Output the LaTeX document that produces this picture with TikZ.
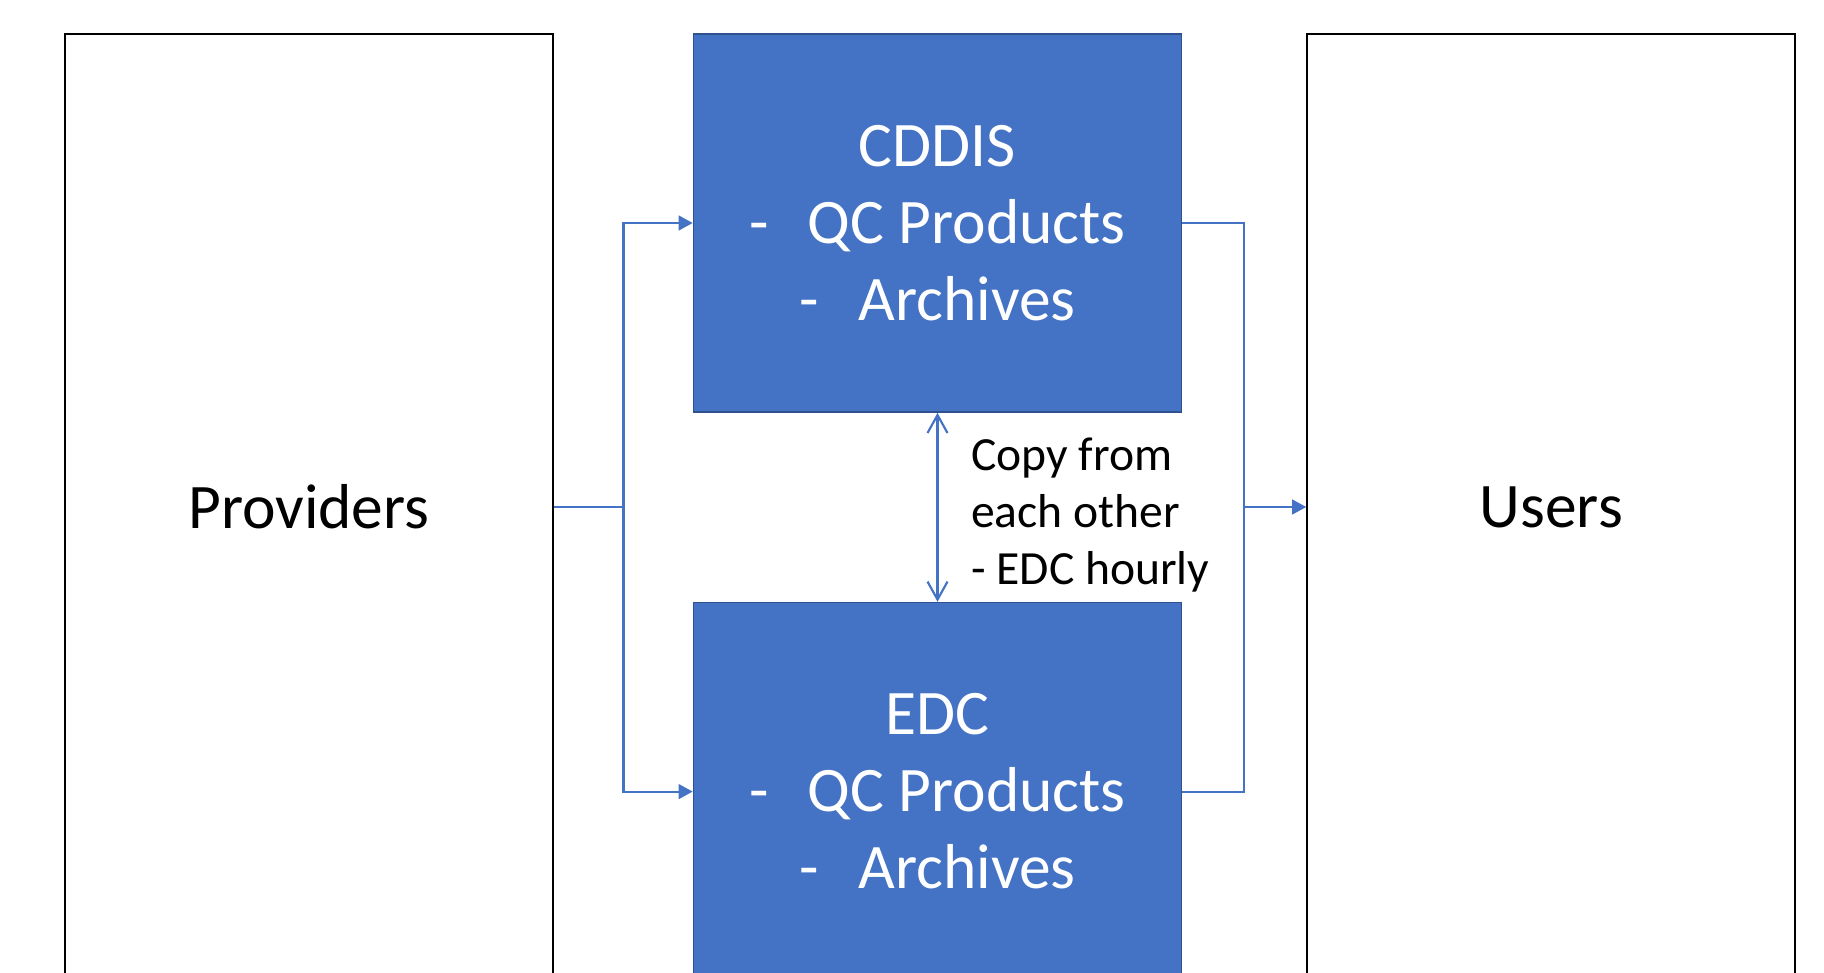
\documentclass[tikz,border=0pt]{standalone}
\usepackage{fontspec}
\setmainfont{Carlito}
\usetikzlibrary{arrows.meta}
\definecolor{accent}{HTML}{4472C4}
\definecolor{accentdark}{HTML}{2F528F}
\begin{document}
\begin{tikzpicture}[x=0.75pt,y=-0.75pt,
  sidebox/.style={draw=black,line width=1.6pt,fill=white,minimum width=366pt,minimum height=709.5pt,inner sep=0pt,font=\fontsize{47.6}{57.75}\selectfont},
  hubbox/.style={draw=accentdark,line width=1.2pt,fill=accent,text=white,minimum width=366pt,minimum height=283.5pt,inner sep=0pt,align=center,font=\fontsize{47.6}{57.75}\selectfont},
  conn/.style={draw=accent,line width=1.6pt},
  arr/.style={conn,-{Triangle[length=10.5pt,width=11pt]}},
  dbl/.style={conn,{Straight Barb[length=13.5pt,width=15pt]}-{Straight Barb[length=13.5pt,width=15pt]}},
  lbl/.style={font=\fontsize{35.7}{42.4}\selectfont,align=left,inner sep=0pt}]
\useasboundingbox (0,0) rectangle (1824,973);
\clip (0,0) rectangle (1824,973);
\fill[white] (0,0) rectangle (1824,973);
\node[sidebox] (prov) at (308.8,507) {Providers};
\node[sidebox] (users) at (1551.3,507) {Users};
\node[hubbox] (cddis) at (937.5,223) {CDDIS\\-\hspace{29.5pt}QC Products\\-\hspace{29.5pt}Archives};
\node[hubbox] (edc) at (937.5,791.6) {EDC\\-\hspace{29.5pt}QC Products\\-\hspace{29.5pt}Archives};
\coordinate (jl) at (623.5,507);
\coordinate (jr) at (1244,507);
\draw[conn] (prov.east) -- (jl);
\draw[arr] (jl) |- (cddis.west);
\draw[arr] (jl) |- (edc.west);
\draw[conn] (cddis.east) -| (jr);
\draw[conn] (edc.east) -| (jr);
\draw[arr] (jr) -- (users.west);
\draw[dbl] (cddis.south) -- (edc.north);
\node[lbl,anchor=base west] (note) at (971,584) {Copy from\\each other\\- EDC hourly};
\end{tikzpicture}
\end{document}
